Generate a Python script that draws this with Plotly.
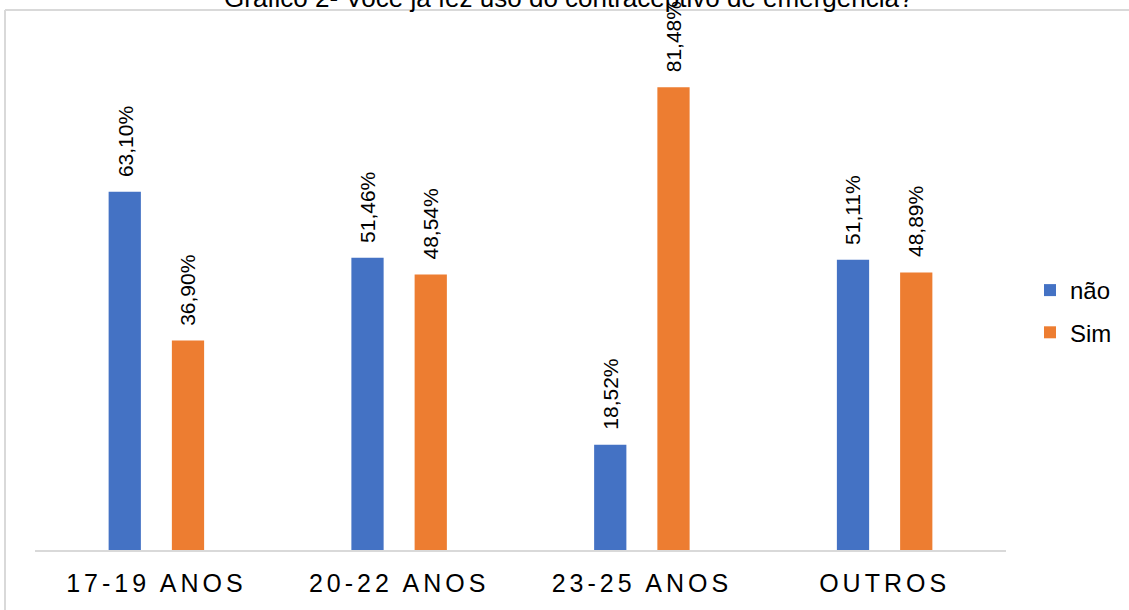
import plotly.graph_objects as go

# Age groups and answer shares (%)
categories = ["17-19 ANOS", "20-22 ANOS", "23-25 ANOS", "OUTROS"]
nao_values = [63.10, 51.46, 18.52, 51.11]
sim_values = [36.90, 48.54, 81.48, 48.89]
series_names = ["não", "Sim"]
title_text = "Gráfico 2- Você já fez uso do contraceptivo de emergência?"

BLUE = "#4472C4"
ORANGE = "#ED7D31"
GRID = "#D9D9D9"
FONT = "Liberation Sans, Arial, sans-serif"

W, H = 1129, 610
L, R, T, B = 35, 123, 39, 60
plot_w = W - L - R
plot_h = H - T - B


def px_x(px):
    return (px - L) / plot_w


def px_y(py):
    return (H - B - py) / plot_h


def pct(v):
    return f"{v:.2f}".replace(".", ",") + "%"


fig = go.Figure()
for name, vals, color, grp in [
    (series_names[0], nao_values, BLUE, "a"),
    (series_names[1], sim_values, ORANGE, "b"),
]:
    fig.add_trace(go.Bar(
        x=categories, y=vals, name=name, marker_color=color,
        marker_line_width=0, legendgroup=grp,
    ))

# Rotated value labels above each bar
bar_shift = 31.5
annotations = []
for vals, sh in [(nao_values, -bar_shift), (sim_values, bar_shift)]:
    for c, v in zip(categories, vals):
        annotations.append(dict(
            x=c, y=v, xref="x", yref="y", text=pct(v), showarrow=False,
            textangle=-90, xshift=sh, yshift=13, yanchor="bottom",
            font=dict(family=FONT, size=21, color="#000000"),
        ))

annotations.append(dict(
    x=(568 - L) / plot_w, y=px_y(15), xref="paper", yref="paper",
    text=title_text, showarrow=False, xanchor="center", yanchor="bottom",
    font=dict(family=FONT, size=26, color="#000000"),
))

tick_text = [f'<span style="letter-spacing:4px">{c}</span>' for c in categories]

fig.update_layout(
    width=W, height=H,
    margin=dict(l=L, r=R, t=T, b=B, autoexpand=False),
    paper_bgcolor="white", plot_bgcolor="white",
    barmode="group", bargap=0.479, bargroupgap=0.49,
    font=dict(family=FONT, color="#000000"),
    showlegend=True,
    legend=dict(
        x=px_x(1030), y=px_y(268), xanchor="left", yanchor="top",
        font=dict(family=FONT, size=24, color="#000000"),
        tracegroupgap=8, traceorder="grouped", bgcolor="rgba(0,0,0,0)",
    ),
    xaxis=dict(
        showline=True, linecolor=GRID, linewidth=1.5, ticks="",
        tickmode="array", tickvals=categories, ticktext=tick_text,
        tickfont=dict(family=FONT, size=25, color="#000000"),
        ticklabelstandoff=10,
        showgrid=False, zeroline=False,
    ),
    yaxis=dict(
        range=[0, 90], showgrid=False, zeroline=False, showticklabels=False,
        showline=False,
    ),
    annotations=annotations,
    shapes=[
        dict(type="line", xref="paper", yref="paper",
             x0=px_x(5), x1=px_x(5), y0=px_y(10), y1=px_y(612),
             line=dict(color=GRID, width=2)),
        dict(type="line", xref="paper", yref="paper",
             x0=px_x(5), x1=px_x(1131), y0=px_y(10), y1=px_y(10),
             line=dict(color=GRID, width=2)),
    ],
)

fig.write_html("out.html")
